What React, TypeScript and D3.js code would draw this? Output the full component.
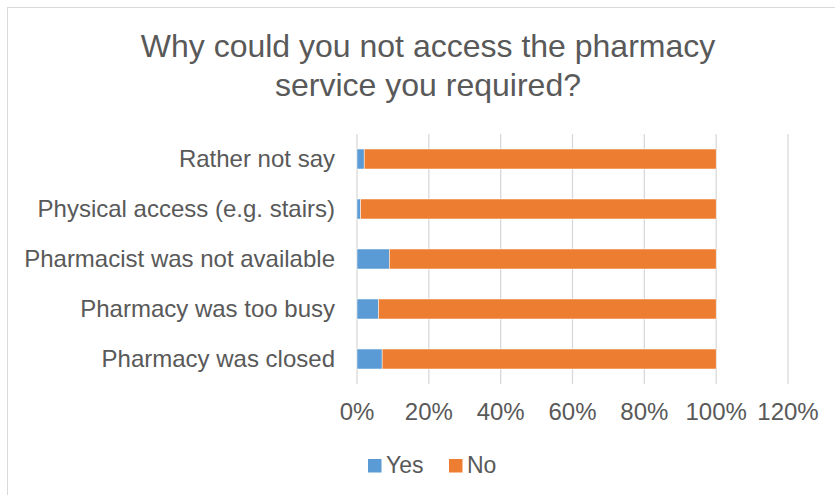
import React from "react";
import * as d3 from "d3";

const categories = [
  "Rather not say",
  "Physical access (e.g. stairs)",
  "Pharmacist was not available",
  "Pharmacy was too busy",
  "Pharmacy was closed",
];
const yesValues = [0.02, 0.01, 0.09, 0.06, 0.07];
const noValues = [0.98, 0.99, 0.91, 0.94, 0.93];
const seriesNames = ["Yes", "No"];
const seriesColors = ["#5B9BD5", "#ED7D31"];
const tickValues = [0, 0.2, 0.4, 0.6, 0.8, 1.0, 1.2];
const titleLines = ["Why could you not access the pharmacy", "service you required?"];

export default function App() {
  const W = 835;
  const H = 495;
  const x = d3.scaleLinear().domain([0, 1.2]).range([357, 788]);
  const y = d3.scaleBand<string>().domain(categories).range([134, 384]).paddingInner(0.6).paddingOuter(0.3);
  const font = "'Liberation Sans', Arial, sans-serif";
  const textColor = "#595959";
  const fmt = d3.format(".0%");
  const stack = categories.map((c, i) => ({ c, vals: [yesValues[i], noValues[i]] }));

  return (
    <svg width={W} height={H} style={{ position: "absolute", left: 0, top: 0, background: "#fff" }} fontFamily={font}>
      <rect x={7.5} y={7.5} width={W + 20} height={H + 20} fill="#fff" stroke="#d9d9d9" strokeWidth={1} />
      {titleLines.map((t, i) => (
        <text key={i} x={428} y={57 + i * 39} textAnchor="middle" fontSize={32} fill={textColor}>
          {t}
        </text>
      ))}
      {tickValues.map((t) => (
        <line key={t} x1={x(t)} x2={x(t)} y1={134} y2={384} stroke="#d9d9d9" strokeWidth={1.3} />
      ))}
      {stack.map(({ c, vals }) => {
        let acc = 0;
        return (
          <g key={c}>
            {vals.map((v, j) => {
              const x0 = x(acc);
              acc += v;
              const x1 = x(acc);
              return (
                <rect key={j} x={x0} y={y(c)} width={x1 - x0} height={y.bandwidth()} fill={seriesColors[j]} stroke="#fff" strokeWidth={0.5} />
              );
            })}
            <text x={335} y={(y(c) ?? 0) + y.bandwidth() / 2 + 8} textAnchor="end" fontSize={24} fill={textColor}>
              {c}
            </text>
          </g>
        );
      })}
      {tickValues.map((t) => (
        <text key={"l" + t} x={x(t)} y={420} textAnchor="middle" fontSize={24} fill={textColor}>
          {fmt(t)}
        </text>
      ))}
      {seriesNames.map((s, i) => {
        const lx = i === 0 ? 368 : 449;
        return (
          <g key={s}>
            <rect x={lx} y={459} width={13.5} height={13.5} fill={seriesColors[i]} />
            <text x={lx + 18} y={473} fontSize={23} fill={textColor}>
              {s}
            </text>
          </g>
        );
      })}
    </svg>
  );
}
